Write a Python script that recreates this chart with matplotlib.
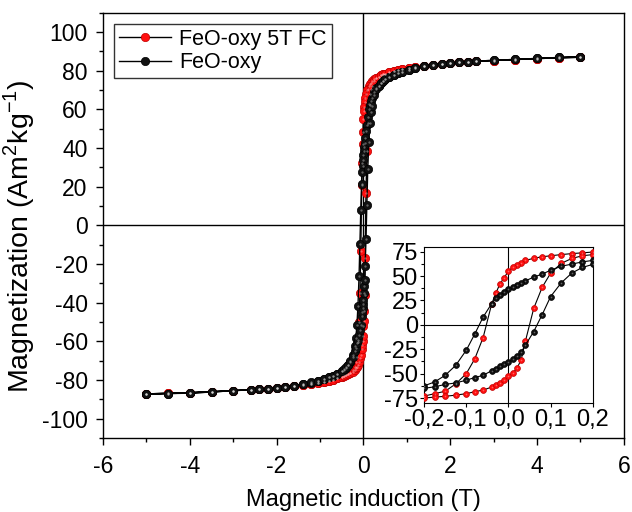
import numpy as np
import matplotlib
matplotlib.use("Agg")
import matplotlib.pyplot as plt
from matplotlib.ticker import MultipleLocator, FuncFormatter

plt.rcParams['font.family'] = ['Liberation Sans', 'DejaVu Sans']
plt.rcParams['mathtext.fontset'] = 'custom'
plt.rcParams['mathtext.rm'] = 'Liberation Sans'
plt.rcParams['axes.unicode_minus'] = False

# field steps of the loop (T): down from +5 to -5, then back up
field_down = [5, 4.5, 4, 3.5, 3, 2.6, 2.4, 2.2, 2.0, 1.8, 1.6, 1.4, 1.2, 1.05, 0.9, 0.8,
              0.7, 0.6, 0.5, 0.45, 0.4, 0.35, 0.3, 0.25, 0.2, 0.175, 0.15, 0.125, 0.1,
              0.08, 0.06, 0.04, 0.03, 0.02, 0.01, 0, -0.01, -0.02, -0.03, -0.04, -0.06,
              -0.08, -0.1, -0.125, -0.15, -0.175, -0.2, -0.25, -0.3, -0.35, -0.4, -0.45,
              -0.5, -0.6, -0.7, -0.8, -0.9, -1.05, -1.2, -1.4, -1.6, -1.8, -2.0, -2.2,
              -2.4, -2.6, -3, -3.5, -4, -4.5, -5]
field_up = [-5, -4.5, -4, -3.5, -3, -2.6, -2.4, -2.2, -2.0, -1.8, -1.6, -1.4, -1.2, -1.05,
            -0.9, -0.8, -0.7, -0.6, -0.5, -0.45, -0.4, -0.35, -0.3, -0.25, -0.2, -0.175,
            -0.15, -0.125, -0.1, -0.08, -0.06, -0.04, -0.03, -0.02, -0.01, 0, 0.01, 0.02,
            0.03, 0.04, 0.06, 0.08, 0.1, 0.125, 0.15, 0.175, 0.2, 0.25, 0.3, 0.35, 0.4,
            0.45, 0.5, 0.6, 0.7, 0.8, 0.9, 1.05, 1.2, 1.4, 1.6, 1.8, 2.0, 2.2, 2.4, 2.6,
            3, 3.5, 4, 4.5, 5]

# FeO-oxy 5T FC (Am2/kg)
fc_down = [87.0, 86.7, 86.3, 85.8, 85.3, 84.9, 84.6, 84.3, 84.0, 83.6, 83.2, 82.6, 82.0,
           81.4, 80.8, 80.3, 79.8, 79.2, 78.5, 78.1, 77.6, 77.0, 76.4, 75.6, 74.6, 73.8,
           73.0, 72.0, 70.8, 69.8, 68.2, 66.0, 63.8, 61.5, 59.0, 55.0, 48.5, 42.0, 32.5,
           21.0, -13.0, -35.0, -50.0, -60.5, -68.0, -70.5, -73.0, -75.0, -76.3, -77.0,
           -77.6, -78.1, -78.5, -79.2, -79.8, -80.3, -80.8, -81.4, -82.0, -82.6, -83.2,
           -83.7, -84.1, -84.4, -84.7, -85.0, -85.5, -86.0, -86.5, -86.8, -87.2]
fc_up = [-87.2, -86.8, -86.5, -86.0, -85.5, -85.0, -84.7, -84.4, -84.1, -83.7, -83.2,
         -82.6, -82.0, -81.4, -80.8, -80.3, -79.8, -79.2, -78.5, -78.1, -77.6, -77.0,
         -76.3, -75.8, -75.0, -74.0, -73.2, -72.0, -70.5, -68.5, -66.8, -63.8, -62.0,
         -60.0, -57.0, -52.0, -49.5, -44.5, -36.0, -17.0, 17.0, 38.5, 53.0, 63.0, 68.0,
         70.8, 72.0, 74.8, 76.2, 77.0, 77.6, 78.1, 78.5, 79.2, 79.8, 80.3, 80.8, 81.4,
         82.0, 82.6, 83.2, 83.6, 84.0, 84.3, 84.6, 84.9, 85.3, 85.8, 86.3, 86.7, 87.0]

# FeO-oxy (Am2/kg)
oxy_down = [87.2, 86.9, 86.4, 85.9, 85.4, 85.0, 84.7, 84.3, 84.0, 83.6, 83.2, 82.4, 81.6,
            80.6, 79.6, 78.7, 77.8, 76.9, 75.5, 74.6, 73.5, 72.3, 71.0, 69.2, 66.0, 64.5,
            62.3, 60.0, 56.0, 52.0, 49.0, 45.0, 42.5, 40.5, 38.5, 36.5, 34.0, 30.7, 27.4,
            21.6, 8.0, -9.5, -26.0, -41.5, -51.7, -58.5, -62.5, -67.0, -70.5, -72.3, -73.6,
            -74.6, -75.5, -76.9, -77.8, -78.6, -79.5, -80.5, -81.3, -82.1, -83.0, -83.5,
            -84.1, -84.5, -84.8, -85.1, -85.5, -86.2, -86.7, -87.0, -87.3]
oxy_up = [-87.4, -87.0, -86.8, -86.2, -85.5, -85.0, -84.7, -84.4, -84.1, -83.5, -83.0,
          -82.1, -81.2, -80.3, -79.4, -78.6, -77.8, -76.8, -75.4, -74.5, -73.4, -72.0,
          -70.4, -68.0, -65.0, -63.5, -61.0, -59.5, -56.7, -54.0, -51.7, -47.0, -45.0,
          -42.5, -40.5, -38.5, -35.0, -31.4, -28.0, -21.0, -6.8, 10.5, 29.0, 43.0, 53.0,
          58.8, 62.0, 67.5, 70.5, 72.3, 73.6, 74.6, 75.5, 76.9, 77.9, 78.7, 79.6, 80.6,
          81.5, 82.4, 83.2, 83.7, 84.0, 84.4, 84.7, 85.0, 85.4, 85.9, 86.4, 86.9, 87.2]

series = [
    ("FeO-oxy 5T FC", fc_down, fc_up, "#ff1010", "#c00000"),
    ("FeO-oxy", oxy_down, oxy_up, "#111111", "#000000"),
]


def draw_loops(ax, ms, lw, with_label):
    for name, m_down, m_up, face, edge in series:
        h = field_down + field_up
        m = m_down + m_up
        ax.plot(h, m, color="black", lw=lw, marker="o", ms=ms,
                mfc=face, mec=edge, mew=0.5,
                label=name if with_label else None, zorder=3)
        # small highlight so the markers look like little spheres
        ax.plot(h, m, ls="none", marker="o", ms=ms * 0.28,
                mfc="white", mec="none", alpha=0.35, zorder=4)


fig = plt.figure(figsize=(6.32, 5.12), dpi=100)
ax = fig.add_axes([0.163, 0.1445, 0.824, 0.8305])

draw_loops(ax, 6, 1.0, True)
ax.axhline(0, color="black", lw=1.0, zorder=1)
ax.axvline(0, color="black", lw=1.0, zorder=1)

ax.set_xlim(-6, 6)
ax.set_ylim(-110, 110)
ax.xaxis.set_major_locator(MultipleLocator(2))
ax.xaxis.set_minor_locator(MultipleLocator(1))
ax.yaxis.set_major_locator(MultipleLocator(20))
ax.yaxis.set_minor_locator(MultipleLocator(10))
ax.tick_params(which="both", direction="out", labelsize=16.5, width=1.0)
ax.tick_params(which="major", length=5)
ax.tick_params(which="minor", length=3)
ax.tick_params(axis="x", which="major", pad=7)
ax.tick_params(axis="y", which="major", pad=6)
for s in ax.spines.values():
    s.set_linewidth(1.0)

ax.set_xlabel("Magnetic induction (T)", fontsize=17, labelpad=8)
ax.set_ylabel("Magnetization (Am$^2$kg$^{-1}$)", fontsize=20.5, labelpad=2)
ax.yaxis.set_label_coords(-0.127, 0.475)

leg = ax.legend(loc="upper left", fontsize=15.5, frameon=True, fancybox=False,
                edgecolor="black", borderaxespad=0.5, handlelength=2.4,
                handletextpad=0.4, borderpad=0.25, labelspacing=0.1)
leg.get_frame().set_linewidth(1.0)

# inset: zoom on the low-field region
ins = fig.add_axes([0.671, 0.213, 0.267, 0.305])
draw_loops(ins, 4.2, 0.8, False)
ins.axhline(0, color="black", lw=0.8, zorder=1)
ins.axvline(0, color="black", lw=0.8, zorder=1)
ins.set_xlim(-0.2, 0.2)
ins.set_ylim(-80, 80)
ins.xaxis.set_major_locator(MultipleLocator(0.1))
ins.yaxis.set_major_locator(MultipleLocator(25))
ins.yaxis.set_minor_locator(MultipleLocator(12.5))
ins.xaxis.set_major_formatter(FuncFormatter(lambda v, p: f"{v:.1f}".replace(".", ",").replace("-0,0", "0,0")))
ins.tick_params(which="both", direction="out", labelsize=17, width=0.8, pad=1.5)
ins.tick_params(which="major", length=3)
ins.tick_params(which="minor", length=2)
for s in ins.spines.values():
    s.set_linewidth(0.8)

fig.savefig("out.png", dpi=100)
